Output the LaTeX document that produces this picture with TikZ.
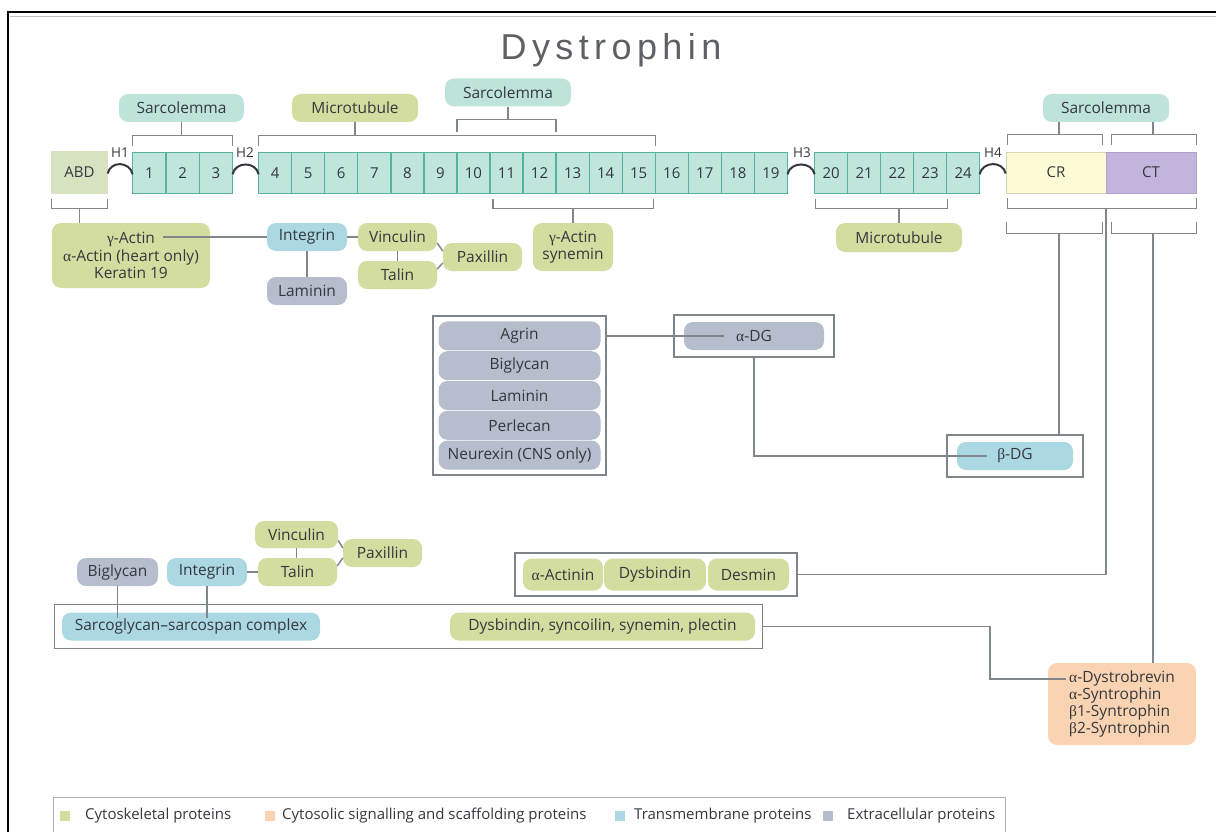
\documentclass[tikz,border=0pt]{standalone}
\usepackage{fontspec}
\setmainfont{Open Sans}
\newfontfamily\titlefont[LetterSpace=15]{Liberation Sans}
\newfontfamily\grk{Liberation Serif}
\usepackage{amsmath}
\usetikzlibrary{matrix,fit}
\definecolor{txt}{RGB}{52,56,62}
\definecolor{lineG}{RGB}{128,134,140}
\definecolor{frameG}{RGB}{125,132,138}
\definecolor{cytoG}{RGB}{211,221,160}
\definecolor{cytoS}{RGB}{250,212,178}
\definecolor{membB}{RGB}{172,216,228}
\definecolor{extraG}{RGB}{182,189,204}
\definecolor{sarcT}{RGB}{190,227,219}
\definecolor{segF}{RGB}{192,229,221}
\definecolor{segB}{RGB}{86,178,158}
\definecolor{abdF}{RGB}{214,226,192}
\definecolor{crF}{RGB}{253,251,214}
\definecolor{ctF}{RGB}{195,180,221}
\tikzstyle{pill} = [rounded corners=9pt, inner sep=0pt, minimum height=28pt, text=txt, font=\fontsize{15.5}{17.5}\selectfont]
\tikzstyle{cyto} = [pill, fill=cytoG]
\tikzstyle{cytosol} = [pill, fill=cytoS]
\tikzstyle{memb} = [pill, fill=membB]
\tikzstyle{extra} = [pill, fill=extraG]
\tikzstyle{sarco} = [pill, fill=sarcT]
\tikzstyle{seg} = [draw=segB, fill=segF, line width=1.3pt, minimum height=41pt, inner sep=0pt, text=txt, font=\fontsize{15}{17}\selectfont]
\tikzstyle{block} = [seg, minimum height=41pt]
\tikzstyle{link} = [draw=lineG, line width=1.5pt]
\tikzstyle{hinge} = [draw=txt, line width=2pt]
\tikzstyle{hlabel} = [text=txt, inner sep=0pt, font=\fontsize{13.5}{15}\selectfont]
\tikzstyle{boxframe} = [draw=frameG, line width=2.2pt, inner sep=0pt]
\tikzstyle{thinframe} = [draw=frameG, line width=1.3pt, inner sep=0pt]
\tikzstyle{legsq} = [minimum size=10pt, inner sep=0pt]
\tikzstyle{legtxt} = [anchor=west, inner sep=0pt, text=txt, font=\fontsize{15}{17}\selectfont]

\begin{document}
\begin{tikzpicture}[x=1pt,y=-1pt,
	segrow/.style={matrix of nodes, nodes={seg, minimum width=#1},
		column sep=-1.3pt, inner sep=0pt, outer sep=0pt, anchor=north west}]
	\useasboundingbox (0,0) rectangle (1216,832);
	% outer frame
	\draw[line width=2.2pt] (8,832) -- (8,12) -- (1216,12);
	\draw[black!25, line width=1pt] (10,16.5) -- (1216,16.5);
	\node[text=txt!80, inner sep=0pt] (title) at (611,50) {\titlefont\fontsize{36}{40}\selectfont Dystrophin};
	
	% binding partners above the rod
	\node[sarco, minimum width=125pt] (sarA) at (181.5,108) {Sarcolemma};
	\node[cyto, minimum width=126pt] (micA) at (355,108) {Microtubule};
	\node[sarco, minimum width=126pt] (sarB) at (508,92.5) {Sarcolemma};
	\node[sarco, minimum width=126pt] (sarC) at (1106,108) {Sarcolemma};
	
	% dystrophin domains
	\node[block, fill=abdF, draw=abdF, minimum width=55pt] (abd) at (79.5,172.5) {ABD};
	\matrix[segrow=33.3pt] (M1) at (132,152) {1 & 2 & 3 \\};
	\matrix[segrow=33.05pt] (M2) at (258,152) {4 & 5 & 6 & 7 & 8 & 9 & 10 & 11 & 12 & 13 & 14 & 15 & 16 & 17 & 18 & 19 \\};
	\matrix[segrow=33pt] (M3) at (814,152) {20 & 21 & 22 & 23 & 24 \\};
	\node[block, fill=crF, draw=crF!85!black, line width=0.6pt, minimum width=100pt] (cr) at (1056,172.5) {CR};
	\node[block, fill=ctF, draw=ctF!90!black, line width=0.6pt, minimum width=90pt] (ct) at (1151,172.5) {CT};
	
	% hinges
	\draw[hinge] ([yshift=-1pt]abd.east) .. controls +(3,-13) and +(-3,-13) .. ([yshift=-1pt]M1-1-1.west);
	\draw[hinge] ([yshift=-1pt]M1-1-3.east) .. controls +(3,-13) and +(-3,-13) .. ([yshift=-1pt]M2-1-1.west);
	\draw[hinge] ([yshift=-1pt]M2-1-16.east) .. controls +(3,-13) and +(-3,-13) .. ([yshift=-1pt]M3-1-1.west);
	\draw[hinge] ([yshift=-1pt]M3-1-5.east) .. controls +(3,-13) and +(-3,-13) .. ([yshift=-1pt]cr.west);
	\node[hlabel] (h1) at (120,153) {H1};
	\node[hlabel] (h2) at (245,153) {H2};
	\node[hlabel] (h3) at (802,153) {H3};
	\node[hlabel] (h4) at (993,153) {H4};
	
	% brackets above
	\draw[link] ([yshift=7pt]M1-1-1.north west) -- ++(0,-10) -| ([yshift=7pt]M1-1-3.north east);
	\draw[link] ([yshift=7pt]M2-1-1.north west) -- ++(0,-10) -| ([yshift=7pt]M2-1-12.north east);
	\draw[link] ([yshift=21pt]M2-1-7.north west) -- ++(0,-12) -| ([yshift=21pt]M2-1-9.north east);
	\draw[link] ([xshift=2pt,yshift=7pt]cr.north west) -- ++(0,-10) -| ([xshift=-4pt,yshift=7pt]cr.north east);
	\draw[link] ([xshift=6pt,yshift=7pt]ct.north west) -- ++(0,-10) -| ([yshift=7pt]ct.north east);
	\coordinate (bCR) at (1059,135);
	\coordinate (bCT) at (1153,135);
	\draw[link] (sarA) -- (sarA |- 0,135);
	\draw[link] (micA) -- (micA |- 0,135);
	\draw[link] (sarB) -- (sarB |- 0,119);
	\draw[link] (sarC.south -| bCR) -- (bCR);
	\draw[link] (sarC.south -| bCT) -- (bCT);
	
	% brackets below
	\draw[link] ([yshift=-5pt]abd.south west) -- ++(0,10) -| ([yshift=-5pt]abd.south east);
	\draw[link] ([xshift=3pt,yshift=-5pt]M2-1-8.south west) -- ++(0,10) -| ([xshift=-2pt,yshift=-5pt]M2-1-12.south east);
	\draw[link] ([xshift=1pt,yshift=-5pt]M3-1-1.south west) -- ++(0,10) -| ([xshift=1pt,yshift=-5pt]M3-1-4.south east);
	\draw[link] ([xshift=2pt,yshift=-5pt]cr.south west) -- ++(0,10) -| ([yshift=-5pt]ct.south east);
	\draw[link] ([xshift=1pt,yshift=-29pt]cr.south west) -- ++(0,11) -| ([xshift=-4pt,yshift=-29pt]cr.south east);
	\draw[link] ([xshift=6pt,yshift=-29pt]ct.south west) -- ++(0,11) -| ([yshift=-29pt]ct.south east);
	\coordinate (bAll) at (1106,208);
	\coordinate (bCR2) at (1059,233);
	\coordinate (bCT2) at (1153,233);
	
	% partners below the rod
	\node[cyto, minimum width=158pt, minimum height=65pt, align=center] (gact) at (131,255.5) {{\grk γ}-Actin\\{\grk α}-Actin (heart only)\\Keratin 19};
	\node[memb, minimum width=80pt] (integA) at (307,237) {Integrin};
	\node[extra, minimum width=80pt] (lamA) at (307,291) {Laminin};
	\node[cyto, minimum width=79pt] (vincA) at (397.5,237) {Vinculin};
	\node[cyto, minimum width=79pt] (talA) at (397.5,275) {Talin};
	\node[cyto, minimum width=79pt] (paxA) at (482.5,257) {Paxillin};
	\node[cyto, minimum width=80pt, minimum height=48pt, align=center] (gsyn) at (573,247) {{\grk γ}-Actin\\synemin};
	\node[cyto, minimum width=126pt, minimum height=29pt] (micB) at (899,237.5) {Microtubule};
	\coordinate (gTxt) at (163,237);
	\draw[link] (abd.south |- 0,208) -- (gact.north -| abd.south);
	\draw[link] (gsyn) -- (gsyn |- 0,208);
	\draw[link] (micB) -- (micB |- 0,208);
	\draw[link] (gTxt) -- (integA);
	\draw[link] (integA) -- (lamA);
	\draw[link] (integA) -- (vincA);
	\draw[link] (vincA) -- (talA);
	\draw[link] ([yshift=-6pt]vincA.east) -- ([yshift=6pt]paxA.west);
	\draw[link] ([yshift=6pt]talA.east) -- ([yshift=-6pt]paxA.west);
	
	% extracellular ligands and dystroglycan
	\matrix[matrix of nodes, nodes={extra, minimum width=162pt, minimum height=29pt},
		row sep=0.8pt, draw=frameG, line width=1.5pt, inner sep=5.5pt] (L) at (519.5,395.5)
	{
		Agrin \\
		Biglycan \\
		Laminin \\
		Perlecan \\
		Neurexin (CNS only) \\
	};
	\node[extra, minimum width=140pt] (adg) at (754,336) {{\grk α}-DG};
	\node[boxframe, fit=(adg), inner xsep=10pt, inner ysep=7pt] (adgF) {};
	\node[memb, minimum width=116pt] (bdg) at (1015,456) {{\grk β}-DG};
	\node[boxframe, fit=(bdg), inner xsep=9.5pt, inner ysep=7pt] (bdgF) {};
	\draw[link] (L.east |- adg) -- ([xshift=-30pt]adg.center);
	\draw[link] (adgF.south) |- ([xshift=-28pt]bdg.center);
	\draw[link] (bCR2) -- (bCR2 |- bdgF.north);
	
	% cytoskeletal partners of CR
	\node[cyto, minimum width=80pt, minimum height=32pt] (actn) at (563,574.5) {{\grk α}-Actinin};
	\node[cyto, minimum width=102pt, minimum height=32pt] (dysb) at (655,574.5) {Dysbindin};
	\node[cyto, minimum width=81pt, minimum height=32pt] (desm) at (748.5,574.5) {Desmin};
	\node[boxframe, fit=(actn)(desm), inner xsep=8pt, inner ysep=5pt] (actF) {};
	\draw[link] (bAll) |- (actF.east);
	
	% sarcoglycan row
	\node[extra, minimum width=81pt] (bigB) at (117.5,572) {Biglycan};
	\node[memb, minimum width=80pt] (intB) at (207,572) {Integrin};
	\node[cyto, minimum width=79pt] (talB) at (297.5,572) {Talin};
	\node[cyto, minimum width=83pt, minimum height=27pt] (vinB) at (296.5,534.5) {Vinculin};
	\node[cyto, minimum width=79pt] (paxB) at (382.5,553) {Paxillin};
	\node[memb, minimum width=258pt] (sgc) at (191,626.5) {Sarcoglycan–sarcospan complex};
	\node[cyto, minimum width=305pt] (dsyn) at (602.5,626.5) {Dysbindin, syncoilin, synemin, plectin};
	\node[thinframe, fit=(sgc)(dsyn), inner xsep=7.5pt, inner ysep=7.5pt] (dysF) {};
	\draw[link] (bigB) -- ++(0,46);
	\draw[link] (intB) -- ++(0,46);
	\draw[link] (intB) -- (talB);
	\draw[link] (vinB.south) -- (vinB.south |- talB.north);
	\draw[link] ([yshift=-6pt]vinB.east) -- ([yshift=5pt]paxB.west);
	\draw[link] ([yshift=6pt]talB.east) -- ([yshift=-5pt]paxB.west);
	
	% CT partners
	\node[cytosol, minimum width=148pt, minimum height=82pt, align=left,
		font=\fontsize{15.5}{16.7}\selectfont] (dbv) at (1122,704)
		{{\grk α}-Dystrobrevin\\{\grk α}-Syntrophin\\{\grk β}1-Syntrophin\\{\grk β}2-Syntrophin};
	\coordinate (dbvIn) at (1066,679);
	\draw[link] (dysF.east) -| (990,679) -- (dbvIn);
	\draw[link] (bCT2) -- (bCT2 |- dbv.north);
	
	% legend
	\draw[black!30, line width=1pt] (53,832) |- (1005,797) -- (1005,832);
	\node[legsq, fill=cytoG] (lq1) at (65,816) {};
	\node[legtxt] (lt1) at (85,816) {Cytoskeletal proteins};
	\node[legsq, fill=cytoS] (lq2) at (270,816) {};
	\node[legtxt] (lt2) at (282,816) {Cytosolic signalling and scaffolding proteins};
	\node[legsq, fill=membB] (lq3) at (620,816) {};
	\node[legtxt] (lt3) at (634,816) {Transmembrane proteins};
	\node[legsq, fill=extraG] (lq4) at (828,816) {};
	\node[legtxt] (lt4) at (847,816) {Extracellular proteins};
\end{tikzpicture}
\end{document}
